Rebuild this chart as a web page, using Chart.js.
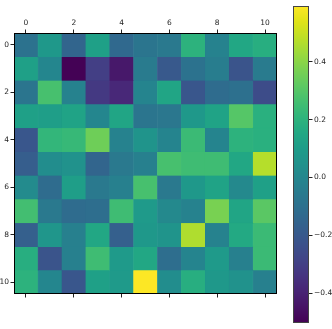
<!DOCTYPE html>
<html>
<head>
<meta charset="utf-8">
<script src="https://cdn.jsdelivr.net/npm/chart.js@4"></script>
<style>
  body { margin: 0; background: #fff; width: 332px; height: 329px; position: relative; overflow: hidden; }
  #matrix { position: absolute; left: 0; top: 0; }
  #cbar { position: absolute; left: 285px; top: 0; }
</style>
</head>
<body>
<canvas id="matrix" width="282" height="300"></canvas>
<canvas id="cbar" width="47" height="329"></canvas>
<script>
// column / row labels of the matrix
const colLabels = ['0', '1', '2', '3', '4', '5', '6', '7', '8', '9', '10'];
const rowTicks = [0, 2, 4, 6, 8, 10];
const cbarTicks = [-0.4, -0.2, 0.0, 0.2, 0.4];

// cell values, one array per row
const values = [
  [-0.09, 0.08, -0.15, 0.12, -0.13, -0.08, -0.06, 0.20, -0.02, 0.15, 0.18],
  [0.12, 0.00, -0.50, -0.30, -0.43, -0.05, -0.20, -0.09, -0.04, -0.22, -0.05],
  [-0.08, 0.27, -0.02, -0.32, -0.38, -0.01, 0.14, -0.21, -0.12, -0.10, -0.25],
  [0.12, 0.11, 0.13, 0.00, 0.14, -0.08, -0.07, 0.08, 0.13, 0.30, 0.19],
  [-0.21, 0.22, 0.23, 0.35, -0.02, 0.06, -0.01, 0.24, -0.01, 0.20, 0.19],
  [-0.18, 0.03, 0.05, -0.15, -0.06, -0.03, 0.27, 0.25, 0.25, 0.15, 0.47],
  [0.02, -0.12, 0.11, -0.06, -0.03, 0.27, -0.06, 0.08, 0.13, 0.01, 0.12],
  [0.26, -0.06, -0.12, -0.11, 0.25, 0.09, 0.01, -0.02, 0.37, 0.14, 0.31],
  [-0.17, 0.07, -0.03, 0.15, -0.17, 0.08, 0.06, 0.46, -0.02, 0.16, 0.24],
  [0.18, -0.22, -0.03, 0.25, 0.09, 0.15, -0.11, -0.01, 0.09, -0.03, 0.24],
  [0.20, 0.00, -0.21, 0.12, 0.09, 0.59, 0.03, 0.18, 0.08, 0.05, -0.03]
];

const vmin = -0.502;
const vmax = 0.592;

// viridis colormap stops
const viridisStops = ['#440154', '#471365', '#482475', '#463480', '#414487', '#3b528b', '#355f8d',
  '#2f6c8e', '#2a788e', '#25848e', '#21918c', '#1e9c89', '#22a884', '#2fb47c', '#44bf70',
  '#5ec962', '#7ad151', '#9bd93c', '#bddf26', '#dfe318', '#fde725'];

function hexToRgb(h) {
  return [parseInt(h.slice(1, 3), 16), parseInt(h.slice(3, 5), 16), parseInt(h.slice(5, 7), 16)];
}

function viridis(t) {
  t = Math.max(0, Math.min(1, t));
  const pos = t * (viridisStops.length - 1);
  const i = Math.min(Math.floor(pos), viridisStops.length - 2);
  const f = pos - i;
  const a = hexToRgb(viridisStops[i]);
  const b = hexToRgb(viridisStops[i + 1]);
  const c = a.map((v, k) => Math.round(v + (b[k] - v) * f));
  return 'rgb(' + c.join(',') + ')';
}

function colorOf(v) {
  return viridis((v - vmin) / (vmax - vmin));
}

const tickFont = { family: 'DejaVu Sans', size: 7.5 };
const tickColor = '#262626';

// stroke a frame around the plot area (matplotlib spines)
const framePlugin = {
  id: 'frame',
  afterDatasetsDraw(chart, args, opts) {
    const a = chart.chartArea;
    const c = chart.ctx;
    c.save();
    c.strokeStyle = opts.color || '#000';
    c.lineWidth = opts.width || 1;
    c.strokeRect(a.left + 0.5, a.top + 0.5, a.right - a.left - 1, a.bottom - a.top - 1);
    c.restore();
  }
};

// each row is one dataset of floating bars spanning [row-0.5, row+0.5]
const datasets = values.map((row, r) => ({
  data: row.map(() => [r - 0.5, r + 0.5]),
  backgroundColor: row.map(colorOf),
  borderColor: row.map(colorOf),
  borderWidth: 0.5,
  borderSkipped: false,
  grouped: false,
  barPercentage: 1,
  categoryPercentage: 1
}));

new Chart(document.getElementById('matrix'), {
  type: 'bar',
  data: { labels: colLabels, datasets: datasets },
  plugins: [framePlugin],
  options: {
    responsive: false,
    animation: false,
    events: [],
    layout: { padding: { right: 5 } },
    plugins: { legend: { display: false }, tooltip: { enabled: false }, frame: { color: '#000', width: 1 } },
    scales: {
      x: {
        type: 'category',
        position: 'top',
        offset: true,
        grid: { display: true, drawOnChartArea: false, offset: false, tickLength: 3.5, color: '#222' },
        border: { display: false },
        ticks: {
          autoSkip: false, maxRotation: 0, padding: 1.5, font: tickFont, color: tickColor,
          callback: (v, i) => (i % 2 === 0 ? colLabels[i] : null)
        },
        afterFit: s => { s.height = 33; }
      },
      x2: {
        type: 'category',
        position: 'bottom',
        offset: true,
        grid: { display: true, drawOnChartArea: false, offset: false, tickLength: 3.5, color: '#222' },
        border: { display: false },
        ticks: {
          autoSkip: false, maxRotation: 0, font: tickFont, color: tickColor,
          callback: (v, i) => (i % 2 === 0 ? '' : null)
        },
        afterFit: s => { s.height = 5; }
      },
      y: {
        type: 'linear',
        min: -0.5,
        max: 10.5,
        reverse: true,
        grid: { display: true, drawOnChartArea: false, tickLength: 3.5, color: '#222' },
        border: { display: false },
        afterBuildTicks: s => { s.ticks = rowTicks.map(v => ({ value: v })); },
        ticks: { padding: 1.5, font: tickFont, color: tickColor, callback: v => String(v) },
        afterFit: s => { s.width = 14; }
      }
    }
  }
});

// colorbar: one floating bar from vmin to vmax filled with the colormap
new Chart(document.getElementById('cbar'), {
  type: 'bar',
  data: {
    labels: ['cbar'],
    datasets: [{
      data: [[vmin, vmax]],
      backgroundColor: ctx => {
        const a = ctx.chart.chartArea;
        if (!a) return 'transparent';
        const g = ctx.chart.ctx.createLinearGradient(0, a.bottom, 0, a.top);
        viridisStops.forEach((c, i) => g.addColorStop(i / (viridisStops.length - 1), c));
        return g;
      },
      borderWidth: 0,
      barPercentage: 1,
      categoryPercentage: 1
    }]
  },
  plugins: [framePlugin],
  options: {
    responsive: false,
    animation: false,
    events: [],
    layout: { padding: { left: 8, top: 1, bottom: 2 } },
    plugins: { legend: { display: false }, tooltip: { enabled: false }, frame: { color: '#444', width: 1 } },
    scales: {
      x: { display: false, offset: true },
      y: {
        type: 'linear',
        position: 'right',
        min: vmin,
        max: vmax,
        grid: { display: true, drawOnChartArea: false, tickLength: 3.5, color: '#222' },
        border: { display: false },
        afterBuildTicks: s => { s.ticks = cbarTicks.map(v => ({ value: v })); },
        ticks: {
          padding: 1.5, font: tickFont, color: tickColor,
          callback: v => v.toFixed(1).replace('-', '\u2212')
        },
        afterFit: s => { s.width = 23; }
      }
    }
  }
});
</script>
</body>
</html>
